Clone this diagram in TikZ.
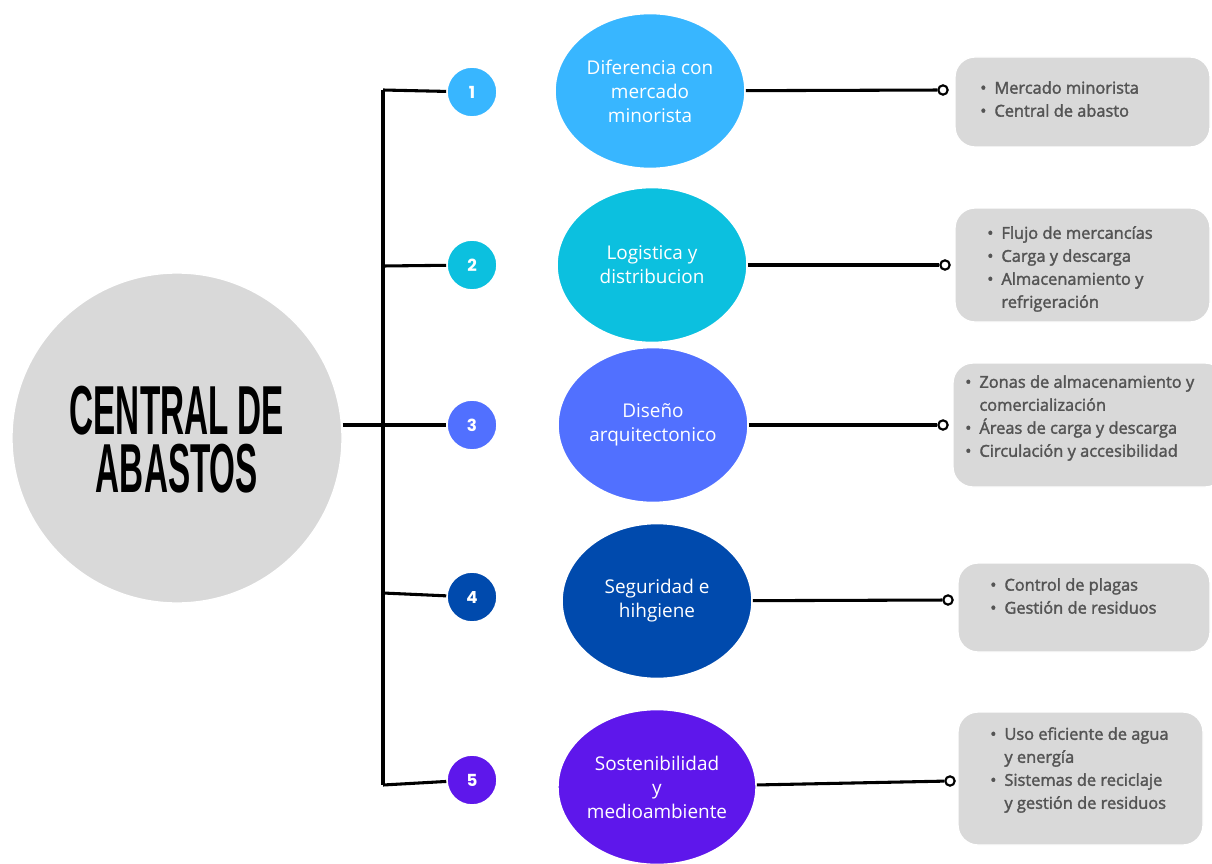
\documentclass[tikz,border=0pt]{standalone}
\usepackage{fontspec}
\setmainfont{Open Sans}
\newfontfamily\boxfont[FakeBold=2]{Open Sans}
\newfontfamily\titlefont[FakeStretch=0.48]{Liberation Sans}
\newfontfamily\numfont{Poppins}
\usetikzlibrary{shapes.geometric}
\definecolor{hubgray}{HTML}{D9D9D9}
\definecolor{txtgray}{HTML}{545454}
\definecolor{tone1}{HTML}{38B6FF}
\definecolor{tone2}{HTML}{0CC0DF}
\definecolor{tone3}{HTML}{5170FF}
\definecolor{tone4}{HTML}{004AAD}
\definecolor{tone5}{HTML}{5E17EB}
\newcommand{\itm}{\textbullet\hspace{6pt}}
\newcommand{\cont}{\phantom{\textbullet}\hspace{6pt}}
\begin{document}
\begin{tikzpicture}[x=0.75pt, y=-0.75pt,
  link/.style={line width=2.3pt, black},
  hub/.style={circle, fill=hubgray, draw=white, line width=1pt, minimum size=247.5pt, inner sep=0pt},
  numdot/.style={circle, draw=white, line width=1.2pt, minimum size=37.5pt, inner sep=0pt, text=white, font=\numfont\bfseries\fontsize{12.5}{12.5}\selectfont},
  topic/.style={ellipse, draw=white, line width=1.2pt, minimum width=142.5pt, minimum height=116.25pt, inner sep=0pt, text=white, align=center, font=\fontsize{14.2}{18}\selectfont},
  endring/.style={circle, draw=black, fill=white, line width=1.6pt, minimum size=7pt, inner sep=0pt},
  infobox/.style={rectangle, rounded corners=15pt, fill=hubgray, draw=white, line width=1pt, inner sep=0pt},
  infotext/.style={anchor=west, align=left, text=txtgray, inner sep=0pt, font=\boxfont\fontsize{12.3}{17.25}\selectfont}]
\useasboundingbox (0,0) rectangle (1212,863);
\node[hub] (c) at (177,438) {};
\node[font=\titlefont\bfseries\fontsize{52}{43.5}\selectfont, align=center, inner sep=0pt] (title) at (177,440) {CENTRAL DE\\ABASTOS};
\coordinate (trunk) at (383,425);
\coordinate (j1) at (383,90);
\coordinate (j2) at (383,266);
\coordinate (j4) at (383,593);
\coordinate (j5) at (383,785);
\node[numdot, fill=tone1] (n1) at (472,92) {1};
\node[numdot, fill=tone2] (n2) at (472,265) {2};
\node[numdot, fill=tone3] (n3) at (472,425) {3};
\node[numdot, fill=tone4] (n4) at (472,597) {4};
\node[numdot, fill=tone5] (n5) at (472,780) {5};
\node[topic, fill=tone1] (e1) at (650,91) {Diferencia con\\mercado\\minorista};
\node[topic, fill=tone2] (e2) at (652,265) {Logistica y\\distribucion};
\node[topic, fill=tone3] (e3) at (653,425) {Diseño\\arquitectonico};
\node[topic, fill=tone4] (e4) at (657,601) {Seguridad e\\hihgiene};
\node[topic, fill=tone5] (e5) at (657,787) {Sostenibilidad\\y\\medioambiente};
\node[infobox, minimum width=191.25pt, minimum height=67.5pt] (b1) at (1082.5,102) {};
\node[infobox, minimum width=191.25pt, minimum height=85.5pt] (b2) at (1082.5,265) {};
\node[infobox, minimum width=204pt, minimum height=93pt] (b3) at (1089,425) {};
\node[infobox, minimum width=189pt, minimum height=66.75pt] (b4) at (1084,607.5) {};
\node[infobox, minimum width=183.75pt, minimum height=99.75pt] (b5) at (1080.5,778.5) {};
\node[infotext] (t1) at (980,99) {\itm Mercado minorista\\\itm Central de abasto};
\node[infotext] (t2) at (987,269) {\itm Flujo de mercancías\\\itm Carga y descarga\\\itm Almacenamiento y\\\cont refrigeración};
\node[infotext] (t3) at (965,418) {\itm Zonas de almacenamiento y\\\cont comercialización\\\itm Áreas de carga y descarga\\\itm Circulación y accesibilidad};
\node[infotext] (t4) at (990,596) {\itm Control de plagas\\\itm Gestión de residuos};
\node[infotext] (t5) at (990,770) {\itm Uso eficiente de agua\\\cont y energía\\\itm Sistemas de reciclaje\\\cont y gestión de residuos};
\node[endring] (d1) at (943,90) {};
\node[endring] (d2) at (945,265) {};
\node[endring] (d3) at (943,425) {};
\node[endring] (d4) at (948,600) {};
\node[endring] (d5) at (950,781) {};
\draw[link] (c.east |- trunk) -- (trunk);
\draw[link] (j1) -- (j5);
\draw[link] (j1) -- (n1);
\draw[link] (j2) -- (n2);
\draw[link] (trunk) -- (n3);
\draw[link] (j4) -- (n4);
\draw[link] (j5) -- (n5);
\draw[link] (e1) -- (d1);
\draw[link] (e2) -- (d2);
\draw[link] (e3) -- (d3);
\draw[link] (e4) -- (d4);
\draw[link] (e5) -- (d5);
\end{tikzpicture}
\end{document}
